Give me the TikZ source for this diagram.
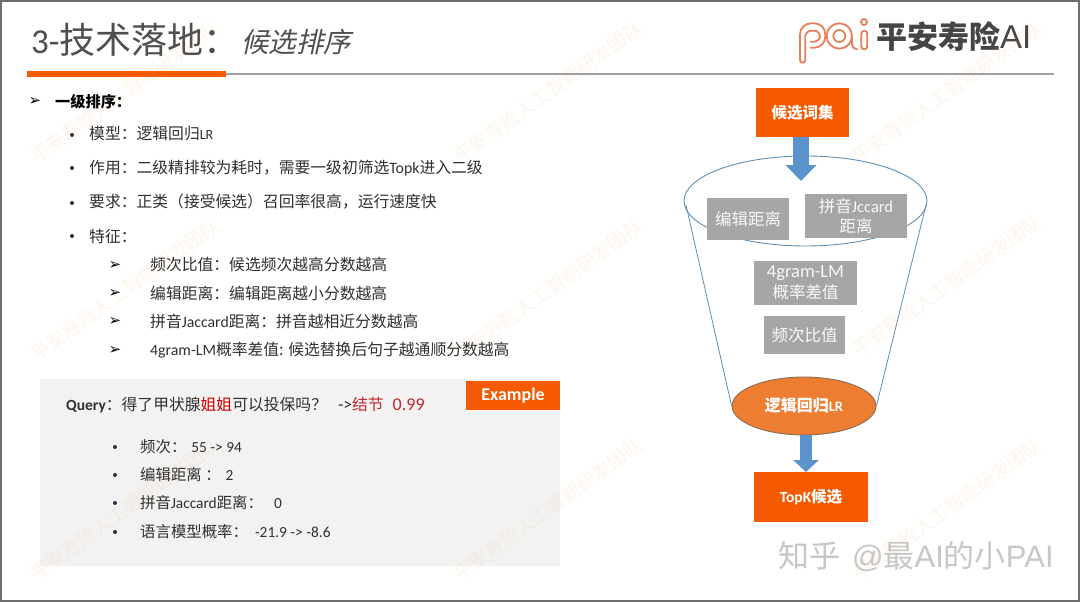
\documentclass[tikz,border=0pt]{standalone}
\usepackage{fontspec}
\setmainfont{Carlito}
\newfontfamily\cjk{Noto Sans CJK SC}
\newfontfamily\cjkit[FakeSlant=0.22]{Noto Sans CJK SC}
\newfontfamily\lib{Liberation Sans}
\newfontfamily\dvu{DejaVu Sans}
\usetikzlibrary{arrows.meta,shapes.geometric}
\newcommand{\C}[1]{{\cjk #1}}
\newcommand{\fs}[1]{\fontsize{#1}{#1}\selectfont}
\newcommand{\fco}{\symbol{"FF1A}}
\newcommand{\fcm}{\symbol{"FF0C}}
\newcommand{\flp}{\symbol{"FF08}}
\newcommand{\frp}{\symbol{"FF09}}
\newcommand{\fqm}{\symbol{"FF1F}}
\definecolor{ink}{HTML}{303030}
\definecolor{brand}{HTML}{F55A00}
\definecolor{boxgray}{HTML}{A6A6A6}
\definecolor{framegray}{HTML}{6E6E6E}
\definecolor{rulegray}{HTML}{A0A0A0}
\definecolor{flow}{HTML}{5B93CC}
\definecolor{funnel}{HTML}{5F8FB4}
\definecolor{wm}{HTML}{F59A2A}
\definecolor{logoorange}{HTML}{E57F5C}
\definecolor{panel}{HTML}{F2F2F2}
\definecolor{redtxt}{HTML}{C0272D}
\definecolor{lrfill}{HTML}{ED7D31}
\definecolor{lrline}{HTML}{7F6A58}
\tikzset{
  txt/.style={anchor=west,inner sep=0pt,text=ink,font=\fs{15.8}},
  dotmark/.style={circle,fill=ink,inner sep=0pt,minimum size=4pt},
  arrowmark/.style={inner sep=0pt,text=black,font=\dvu\fs{15}},
  orangebox/.style={fill=brand,inner sep=0pt,text=white,font=\fs{15.5}\bfseries,align=center},
  graybox/.style={fill=boxgray,inner sep=0pt,text=white!92!boxgray,font=\fs{16.5},align=center},
  blockarrow/.style={flow,line width=#1},
  watermark/.style={rotate=36,text=wm,text opacity=0.09,inner sep=0pt,font=\fs{19}},
  logoline/.style={draw=logoorange,line width=1.8pt,line join=round,line cap=round}
}
\begin{document}
\begin{tikzpicture}[x=1pt,y=-1pt]
\useasboundingbox (0,0) rectangle (1080,602);
\fill[white] (0,0) rectangle (1080,602);
% header
\node[anchor=west,inner sep=0pt,text=ink!85,font=\fs{35}] (title) at (31,40) {3-\C{\fs{36}技术落地\fco}};
\node[anchor=west,inner sep=0pt,text=ink!85,font=\fs{27.5}] (subtitle) at (241,42) {\cjkit 候选排序};
\coordinate (rulea) at (226,74);
\coordinate (ruleb) at (1054,74);
\draw[rulegray,line width=1.2pt] (rulea) -- (ruleb);
\fill[brand] (27,71) rectangle (226,77);
% logo
\begin{scope}[shift={(790,10)},x=0.3333pt,y=-0.3333pt]
  \draw[logoline] (62,113) [rounded corners=11pt] -- (106,113) -- (106,40) -- (30,40) -- (30,110) [rounded corners=2.6pt] -- (30,158) -- (46,158) -- (46,100) [rounded corners=6pt] -- (46,62) -- (90,62) -- (90,95) -- (62,95);
  \draw[logoline] (148,78) circle[radius=38];
  \draw[logoline] (148,78) circle[radius=18];
  \draw[logoline,rounded corners=5pt] (186,85) -- (186,118) -- (200,118);
  \draw[logoline,rounded corners=3pt] (214,62) rectangle (232,118);
  \draw[logoline] (222,36) circle[radius=9];
\end{scope}
\node[anchor=west,inner sep=0pt,text=ink!90,font=\fs{31}\bfseries] (brandname) at (876,37) {\C{平安寿险}{\lib\mdseries\fs{33}AI}};
% main list
\node[arrowmark] (m0) at (35,102) {➢};
\node[txt,font=\fs{15.2}\bfseries,text=black] (l0) at (55,102) {\C{一级排序\fco}};
\node[dotmark] (b1) at (72,135) {};
\node[txt] (l1) at (89,134) {\C{模型\fco 逻辑回归}{\fs{14}LR}};
\node[dotmark] (b2) at (72,168) {};
\node[txt] (l2) at (89,168) {\C{作用\fco 二级精排较为耗时\fcm 需要一级初筛选}Topk\C{进入二级}};
\node[dotmark] (b3) at (72,203) {};
\node[txt] (l3) at (89,202) {\C{要求\fco 正类\flp 接受候选\frp 召回率很高\fcm 运行速度快}};
\node[dotmark] (b4) at (72,236) {};
\node[txt] (l4) at (89,236) {\C{特征\fco}};
\foreach \yy/\nn in {265/s1,293/s2,321/s3,350/s4}{
  \node[arrowmark] (m\nn) at (115,\yy) {➢};
}
\node[txt] (s1) at (150,265) {\C{频次比值\fco 候选频次越高分数越高}};
\node[txt] (s2) at (150,293) {\C{编辑距离\fco 编辑距离越小分数越高}};
\node[txt] (s3) at (150,321) {\C{拼音}Jaccard\C{距离\fco 拼音越相近分数越高}};
\node[txt] (s4) at (150,350) {4gram-LM\C{概率差值: 候选替换后句子越通顺分数越高}};
% example panel
\fill[panel] (40,379) rectangle (560,566);
\node[orangebox,minimum width=94pt,minimum height=29pt,font=\fs{18}\bfseries] (ex) at (513,395.5) {Example};
\node[txt,font=\fs{15.5}] (q) at (66,405.5) {\textbf{Query}\C{\fs{15.8}\fco 得了甲状腺\textcolor{red!80!black}{姐姐}可以投保吗\fqm}\fs{17.5}\hspace{11pt}->\C{\fs{15.8}\textcolor{redtxt}{结节}}\hspace{9pt}\textcolor{redtxt}{\fs{18}0.99}};
\foreach \yy/\nn in {447/e1,475/e2,503/e3,532/e4}{
  \node[dotmark] (d\nn) at (115,\yy) {};
}
\node[txt,font=\fs{15.4}] (e1) at (140,447) {\C{频次\fco}\hspace{5pt}55 -> 94};
\node[txt,font=\fs{15.4}] (e2) at (140,475) {\C{编辑距离 \fco}\hspace{5pt}2};
\node[txt,font=\fs{15.4}] (e3) at (140,503) {\C{拼音}Jaccard\C{距离\fco}\hspace{11pt}0};
\node[txt,font=\fs{15.4}] (e4) at (140,532) {\C{语言模型概率\fco}\hspace{7pt}-21.9 -> -8.6};
% funnel flow
\node[orangebox,minimum width=93pt,minimum height=49pt] (cand) at (802.5,112.5) {\C{候选词集}};
\coordinate (tipa) at (801,181);
\draw[blockarrow=16pt,-{Triangle[width=30pt,length=16pt]}] (cand.south -| tipa) -- (tipa);
\node[draw=funnel,line width=0.9pt,ellipse,inner sep=0pt,minimum width=243pt,minimum height=90pt] (rim) at (805.5,201) {};
\node[graybox,minimum width=82pt,minimum height=42pt] (edit) at (748,219) {\C{编辑距离}};
\node[graybox,minimum width=102pt,minimum height=44pt] (py) at (856,216) {\C{拼音}Jccard\\[3pt]\C{距离}};
\node[graybox,minimum width=103pt,minimum height=44pt] (gram) at (805.5,283) {{\fs{18.5}4gram-LM}\\[3pt]\C{概率差值}};
\node[graybox,minimum width=81pt,minimum height=38pt] (freq) at (804.5,335) {\C{频次比值}};
\node[draw=lrline,line width=0.8pt,fill=lrfill,ellipse,inner sep=0pt,minimum width=144pt,minimum height=58pt,text=white,font=\fs{16}\bfseries] (lr) at (804,406) {\C{逻辑回归}{\fs{14.5}LR}};
\coordinate (fl) at (686,205);
\coordinate (fr) at (926,205);
\draw[funnel,line width=0.8pt] (fl) -- (lr.west);
\draw[funnel,line width=0.8pt] (fr) -- (lr.east);
\coordinate (tipb) at (806,472);
\node[orangebox,minimum width=114pt,minimum height=50pt] (topk) at (811,497) {TopK\C{候选}};
\draw[blockarrow=12pt,-{Triangle[width=25pt,length=12pt]}] (lr.south -| tipb) -- (tipb);
% frame
\draw[framegray,line width=2pt] (1,1) rectangle (1079,601);
\node[anchor=west,inner sep=0pt,text=black!22,font=\fs{31}] (zh) at (778,557) {\C{知乎}\hspace{12pt}{\lib @}\C{最}{\lib AI}\C{的小}{\lib PAI}};
% watermarks
\foreach \wx/\wy/\wn in {125/92/a,548/92/b,947/92/c,125/290/d,548/290/e,947/285/f,125/509/g,548/509/h,947/509/i}{
  \node[watermark] (wm\wn) at (\wx,\wy) {\C{平安寿险人工智能研发团队}};
}
\end{tikzpicture}
\end{document}
